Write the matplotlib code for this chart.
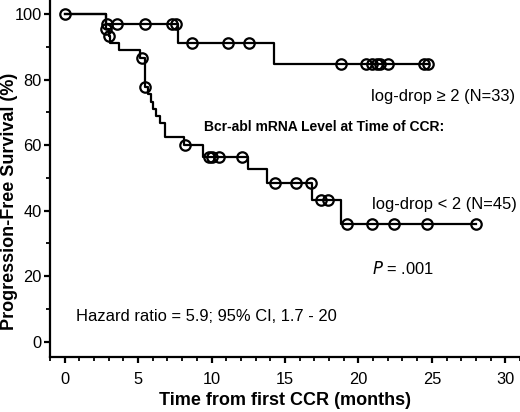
import numpy as np
import matplotlib
matplotlib.use("Agg")
import matplotlib.pyplot as plt
from matplotlib.ticker import MultipleLocator

plt.rcParams['font.family'] = ['Liberation Sans', 'DejaVu Sans']

# log-drop >= 2 (N=33): step times / survival (%)
hi_t = [0, 2.85, 7.7, 14.25, 24.75]
hi_s = [100, 97.0, 91.3, 84.8, 84.8]
hi_cens_t = [0, 2.9, 3.6, 5.5, 7.3, 7.55, 8.7, 11.15, 12.55,
             18.8, 20.5, 20.9, 21.25, 21.5, 22.0, 24.45, 24.75]

# log-drop < 2 (N=45)
lo_t = [0, 2.85, 3.0, 3.1, 3.7, 5.1, 5.45, 5.65, 5.85, 6.05, 6.25, 6.5, 6.8,
        8.1, 9.4, 12.5, 13.8, 16.85, 18.8, 28.0]
lo_s = [100, 95.6, 93.3, 91.1, 88.9, 86.7, 77.8, 75.6, 73.3, 71.1, 68.9, 66.7, 62.6,
        60.0, 56.5, 52.7, 48.4, 43.3, 35.8, 35.8]
lo_cens_t = [2.85, 3.0, 5.25, 5.5, 8.2, 9.8, 10.05, 10.5, 12.1,
             14.35, 15.75, 16.8, 17.45, 17.9, 19.2, 20.9, 22.4, 24.7, 28.0]


def surv_at(times, surv, t):
    idx = np.searchsorted(times, t, side='right') - 1
    return surv[idx]


fig = plt.figure(figsize=(5.2, 4.12), dpi=100)
ax = fig.add_axes([0.096, 0.134, 0.904, 0.866])

for t, s, ct in [(hi_t, hi_s, hi_cens_t), (lo_t, lo_s, lo_cens_t)]:
    ax.plot(t, s, drawstyle='steps-post', color='black', lw=1.6)
    cy = [surv_at(t, s, c) for c in ct]
    ax.plot(ct, cy, 'o', ms=7.5, mfc='none', mec='black', mew=1.6)

ax.set_xlim(-1, 31)
ax.set_ylim(-4.6, 104.3)
ax.xaxis.set_major_locator(MultipleLocator(5))
ax.xaxis.set_minor_locator(MultipleLocator(1))
ax.yaxis.set_major_locator(MultipleLocator(20))
ax.yaxis.set_minor_locator(MultipleLocator(10))
ax.spines['top'].set_visible(False)
ax.spines['right'].set_visible(False)
for sp in ['left', 'bottom']:
    ax.spines[sp].set_linewidth(1.6)
ax.tick_params(which='major', direction='out', length=4.5, width=1.6, labelsize=11.8)
ax.tick_params(axis='y', which='major', pad=1.5)
ax.tick_params(axis='x', which='major', pad=6.5)
ax.tick_params(which='minor', direction='out', length=3, width=1.3)

ax.set_xlabel('Time from first CCR (months)', fontsize=13, fontweight='bold')
ax.set_ylabel('Progression-Free Survival (%)', fontsize=13, fontweight='bold')
ax.xaxis.set_label_coords(0.5, -0.098)
ax.yaxis.set_label_coords(-0.068, 0.435)

ax.text(20.84, 74.7, 'log-drop \u2265 2 (N=33)', fontsize=11.9, va='center')
ax.text(9.5, 65.6, 'Bcr-abl mRNA Level at Time of CCR:', fontsize=10,
        fontweight='bold', va='center')
ax.text(20.9, 41.8, 'log-drop < 2 (N=45)', fontsize=11.9, va='center')
ax.text(20.9, 22.5, '$P$ = .001', fontsize=11.9, va='center')
ax.text(0.75, 7.7, 'Hazard ratio = 5.9; 95% CI, 1.7 - 20', fontsize=11.9, va='center')

fig.savefig('out.png', dpi=100)
